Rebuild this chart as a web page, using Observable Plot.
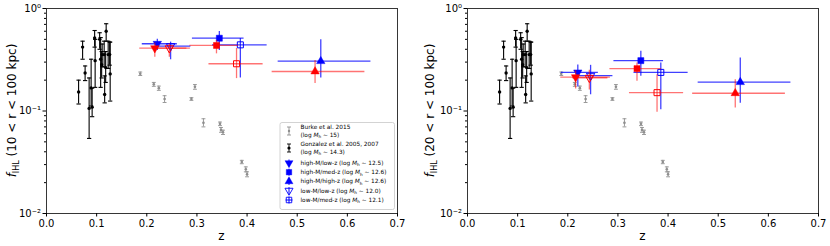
<!DOCTYPE html>
<html><head><meta charset="utf-8">
<script src="https://cdn.jsdelivr.net/npm/d3@7"></script>
<script src="https://cdn.jsdelivr.net/npm/@observablehq/plot@0.6"></script>
<style>
body{margin:0;background:#fff}
#wrap{display:flex;width:830px;height:246px;overflow:hidden}
svg{font-family:"DejaVu Sans",sans-serif}
</style>
</head><body><div id="wrap"></div>
<script>
// ---------- tick labels ----------
const xTicks = [0, 0.1, 0.2, 0.3, 0.4, 0.5, 0.6, 0.7];
const yMajor = [0.01, 0.1, 1];
const yMajorLabels = ["10⁻²", "10⁻¹", "10⁰"];
const yMinor = [0.02,0.03,0.04,0.05,0.06,0.07,0.08,0.09,0.2,0.3,0.4,0.5,0.6,0.7,0.8,0.9];

// ---------- Burke et al. 2015 ----------
const burkeZ  = [0.187, 0.214, 0.224, 0.2355, 0.289, 0.296, 0.313, 0.346, 0.348, 0.352, 0.3895, 0.3975, 0.400];
const burkeF  = [0.231, 0.182, 0.167, 0.131, 0.131, 0.172, 0.0766, 0.0749, 0.0654, 0.0621, 0.0318, 0.0270, 0.0241];
const burkeLo = [0.222, 0.174, 0.159, 0.121, 0.127, 0.163, 0.070, 0.072, 0.062, 0.059, 0.0306, 0.0255, 0.0228];
const burkeHi = [0.240, 0.190, 0.175, 0.141, 0.135, 0.181, 0.084, 0.078, 0.069, 0.065, 0.0330, 0.0285, 0.0255];

// ---------- Gonzalez et al. 2005, 2007 ----------
const gonzZ  = [0.064, 0.072, 0.077, 0.085, 0.089, 0.091, 0.096, 0.097, 0.106, 0.108, 0.110, 0.111, 0.115, 0.116, 0.118, 0.119, 0.123, 0.126, 0.127];
const gonzF  = [0.153, 0.42, 0.235, 0.106, 0.168, 0.109, 0.515, 0.31, 0.50, 0.32, 0.283, 0.355, 0.355, 0.145, 0.265, 0.60, 0.355, 0.355, 0.23];
const gonzLo = [0.117, 0.32, 0.198, 0.054, 0.112, 0.088, 0.42, 0.17, 0.40, 0.17, 0.21, 0.27, 0.27, 0.12, 0.19, 0.48, 0.26, 0.28, 0.125];
const gonzHi = [0.200, 0.48, 0.275, 0.21, 0.32, 0.167, 0.61, 0.50, 0.58, 0.52, 0.38, 0.45, 0.48, 0.22, 0.38, 0.71, 0.48, 0.47, 0.47];

// ---------- samples ----------
const sampleNames = ["high-M/low-z", "high-M/med-z", "high-M/high-z", "low-M/low-z", "low-M/med-z"];
const sampleLogMh = ["12.5", "12.6", "12.6", "12.0", "12.1"];

// left panel: 10 < r < 100 kpc
const blue10Z   = [0.221, 0.3447, 0.547, 0.2475, 0.3866];
const blue10ZLo = [0.191, 0.291, 0.462, 0.218, 0.331];
const blue10ZHi = [0.261, 0.394, 0.647, 0.288, 0.440];
const blue10F   = [0.453, 0.513, 0.306, 0.430, 0.442];
const blue10FLo = [0.390, 0.389, 0.210, 0.316, 0.210];
const blue10FHi = [0.500, 0.596, 0.495, 0.470, 0.510];
const red10Z    = [0.216, 0.339, 0.5356, 0.245, 0.379];
const red10ZLo  = [0.186, 0.286, 0.450, 0.212, 0.324];
const red10ZHi  = [0.287, 0.383, 0.635, 0.280, 0.432];
const red10F    = [0.410, 0.436, 0.243, 0.410, 0.289];
const red10FLo  = [0.335, 0.361, 0.185, 0.335, 0.207];
const red10FHi  = [0.460, 0.487, 0.311, 0.450, 0.407];

// right panel: 20 < r < 100 kpc
const blue20Z   = [0.220, 0.3457, 0.544, 0.2455, 0.3855];
const blue20ZLo = [0.187, 0.292, 0.460, 0.215, 0.332];
const blue20ZHi = [0.261, 0.391, 0.645, 0.290, 0.440];
const blue20F   = [0.238, 0.310, 0.191, 0.221, 0.238];
const blue20FLo = [0.171, 0.218, 0.119, 0.144, 0.103];
const blue20FHi = [0.281, 0.382, 0.329, 0.279, 0.294];
const red20Z    = [0.2156, 0.338, 0.534, 0.243, 0.378];
const red20ZLo  = [0.186, 0.284, 0.449, 0.210, 0.323];
const red20ZHi  = [0.285, 0.387, 0.634, 0.280, 0.431];
const red20F    = [0.214, 0.259, 0.149, 0.211, 0.151];
const red20FLo  = [0.164, 0.195, 0.107, 0.160, 0.097];
const red20FHi  = [0.247, 0.294, 0.202, 0.250, 0.226];

// ---------- helpers ----------
const capSymbol = {draw(ctx, size) { const w = Math.sqrt(size) / 2; ctx.moveTo(-w, 0); ctx.lineTo(w, 0); }};
const sampleSymbol = ["triangle", "square", "triangle", "triangle", "square"];
const sampleRotate = [180, 0, 0, 180, 0];
const sampleOpen = [false, false, false, true, true];

function rows(Z, ZLo, ZHi, F, FLo, FHi) {
  return Z.map((z, i) => ({z, zlo: ZLo[i], zhi: ZHi[i], f: F[i], flo: FLo[i], fhi: FHi[i]}));
}

function errorbarMarks(data, color, dotR, capR, sw) {
  return [
    Plot.ruleX(data, {x: "z", y1: "lo", y2: "hi", stroke: color, strokeWidth: sw}),
    Plot.dot(data, {x: "z", y: "lo", symbol: capSymbol, r: capR, stroke: color, fill: "none", strokeWidth: sw}),
    Plot.dot(data, {x: "z", y: "hi", symbol: capSymbol, r: capR, stroke: color, fill: "none", strokeWidth: sw}),
    Plot.dot(data, {x: "z", y: "f", r: dotR, fill: color, stroke: "none"})
  ];
}

function sampleMarks(data, color, lineOpacity) {
  const m = [];
  data.forEach((d, i) => {
    m.push(Plot.ruleY([d], {y: "f", x1: "zlo", x2: "zhi", stroke: color, strokeOpacity: lineOpacity, strokeWidth: 1.3}));
    m.push(Plot.ruleX([d], {x: "z", y1: "flo", y2: "fhi", stroke: color, strokeOpacity: lineOpacity, strokeWidth: 1.3}));
  });
  data.forEach((d, i) => {
    const isSq = sampleSymbol[i] === "square";
    m.push(Plot.dot([d], {
      x: "z", y: "f", symbol: sampleSymbol[i], rotate: sampleRotate[i],
      r: isSq ? 3.4 : 3.1,
      fill: sampleOpen[i] ? "none" : color,
      stroke: color, strokeWidth: sampleOpen[i] ? 1 : 0.5
    }));
  });
  return m;
}

function panel({marginLeft, marginRight, blue, red, rangeText, labelX}) {
  const burke = burkeZ.map((z, i) => ({z, f: burkeF[i], lo: burkeLo[i], hi: burkeHi[i]}));
  const gonz = gonzZ.map((z, i) => ({z, f: gonzF[i], lo: gonzLo[i], hi: gonzHi[i]}));
  const svg = Plot.plot({
    width: 415, height: 246,
    marginLeft, marginRight, marginTop: 8, marginBottom: 33,
    style: {fontFamily: "DejaVu Sans, sans-serif", fontSize: "10px", color: "#000", background: "#fff", overflow: "visible"},
    x: {domain: [0, 0.7]},
    y: {type: "log", domain: [0.01, 1]},
    marks: [
      ...errorbarMarks(burke, "#8e8e8e", 1.3, 2.2, 0.9),
      ...errorbarMarks(gonz, "#000", 1.7, 2.4, 1.1),
      ...sampleMarks(blue, "#0000ff", 0.75),
      ...sampleMarks(red, "#ff0000", 0.55),
      Plot.frame({stroke: "#222", strokeWidth: 0.9}),
      Plot.axisX({ticks: xTicks, tickFormat: d => d.toFixed(1), tickSize: 3.5, tickPadding: 2.5, label: null, fontSize: 10}),
      Plot.axisY({ticks: yMajor, tickFormat: (d, i) => yMajorLabels[yMajor.indexOf(d)], tickSize: 3.5, tickPadding: 2, label: null, fontSize: 10}),
      Plot.axisY({ticks: yMinor, tickFormat: () => "", tickSize: 2, label: null})
    ]
  });
  const s = d3.select(svg);
  const plotMid = (8 + 213) / 2;
  const t = s.append("text")
    .attr("transform", `translate(${labelX},${plotMid}) rotate(-90)`)
    .attr("text-anchor", "middle").attr("font-size", 12).attr("fill", "#000");
  t.append("tspan").attr("font-style", "italic").text("f");
  t.append("tspan").attr("font-size", 8).attr("dy", 2.5).text("IHL");
  t.append("tspan").attr("dy", -2.5).text(` (${rangeText})`);
  s.append("text")
    .attr("x", marginLeft + (415 - marginLeft - marginRight) / 2).attr("y", 240)
    .attr("text-anchor", "middle").attr("font-size", 12).attr("fill", "#000").text("z");
  return svg;
}

const left = panel({
  marginLeft: 46, marginRight: 18,
  blue: rows(blue10Z, blue10ZLo, blue10ZHi, blue10F, blue10FLo, blue10FHi),
  red: rows(red10Z, red10ZLo, red10ZHi, red10F, red10FLo, red10FHi),
  rangeText: "10 < r < 100 kpc", labelX: 16
});
const right = panel({
  marginLeft: 52, marginRight: 12,
  blue: rows(blue20Z, blue20ZLo, blue20ZHi, blue20F, blue20FLo, blue20FHi),
  red: rows(red20Z, red20ZLo, red20ZHi, red20F, red20FLo, red20FHi),
  rangeText: "20 < r < 100 kpc", labelX: 19
});

// ---------- legend (left panel) ----------
const legendRefs = [["Burke et al. 2015", "15"], ["Gonzalez et al. 2005, 2007", "14.3"]];
(function legend() {
  const s = d3.select(left);
  const g = s.append("g").attr("font-family", "DejaVu Sans, sans-serif").attr("font-size", 5.8)
    .attr("fill", "#000").attr("text-anchor", "start").style("text-anchor", "start");
  g.append("rect").attr("x", 280).attr("y", 122.5).attr("width", 114.5).attr("height", 87)
    .attr("fill", "#fff").attr("fill-opacity", 0.85).attr("stroke", "#c8c8c8").attr("stroke-width", 0.8).attr("rx", 2);
  const mx = 289, tx = 300.5;
  function mh(sel, val) {
    sel.append("tspan").text("(log ");
    sel.append("tspan").attr("font-style", "italic").text("M");
    sel.append("tspan").attr("font-size", 4.2).attr("dy", 1.3).text("h");
    sel.append("tspan").attr("dy", -1.3).text(` ∼ ${val})`);
  }
  // reference samples (two-line entries)
  const refY = [127, 144];
  const refColor = ["#8e8e8e", "#000"];
  legendRefs.forEach(([name, val], i) => {
    const y = refY[i];
    const c = refColor[i];
    const cy = y + 4;
    g.append("line").attr("x1", mx).attr("x2", mx).attr("y1", cy - 4).attr("y2", cy + 4).attr("stroke", c).attr("stroke-width", 0.9);
    g.append("line").attr("x1", mx - 2).attr("x2", mx + 2).attr("y1", cy - 4).attr("y2", cy - 4).attr("stroke", c).attr("stroke-width", 0.9);
    g.append("line").attr("x1", mx - 2).attr("x2", mx + 2).attr("y1", cy + 4).attr("y2", cy + 4).attr("stroke", c).attr("stroke-width", 0.9);
    g.append("circle").attr("cx", mx).attr("cy", cy).attr("r", i === 0 ? 1.2 : 1.6).attr("fill", c);
    g.append("text").attr("x", tx).attr("y", y + 2).attr("text-anchor", "start").text(name);
    mh(g.append("text").attr("x", tx).attr("y", y + 9.5).attr("text-anchor", "start"), val);
  });
  const rowY = [163, 172.2, 181.4, 190.6, 200];
  sampleNames.forEach((name, i) => {
    const y = rowY[i];
    const sym = sampleSymbol[i] === "square" ? d3.symbolSquare : d3.symbolTriangle;
    const size = sampleSymbol[i] === "square" ? 30 : 28;
    g.append("line").attr("x1", mx).attr("x2", mx).attr("y1", y - 3.5).attr("y2", y + 3.5).attr("stroke", "#0000ff").attr("stroke-width", 1);
    if (sampleOpen[i] && sampleSymbol[i] === "square")
      g.append("line").attr("x1", mx - 3.5).attr("x2", mx + 3.5).attr("y1", y).attr("y2", y).attr("stroke", "#0000ff").attr("stroke-width", 1);
    g.append("path").attr("d", d3.symbol(sym, size)())
      .attr("transform", `translate(${mx},${y}) rotate(${sampleRotate[i]})`)
      .attr("fill", sampleOpen[i] ? "none" : "#0000ff").attr("stroke", "#0000ff").attr("stroke-width", sampleOpen[i] ? 0.9 : 0.4);
    const t = g.append("text").attr("x", tx).attr("y", y + 2).attr("text-anchor", "start");
    t.append("tspan").text(name + " ");
    mh(t, sampleLogMh[i]);
  });
})();

document.getElementById("wrap").append(left, right);
</script>
</body></html>
